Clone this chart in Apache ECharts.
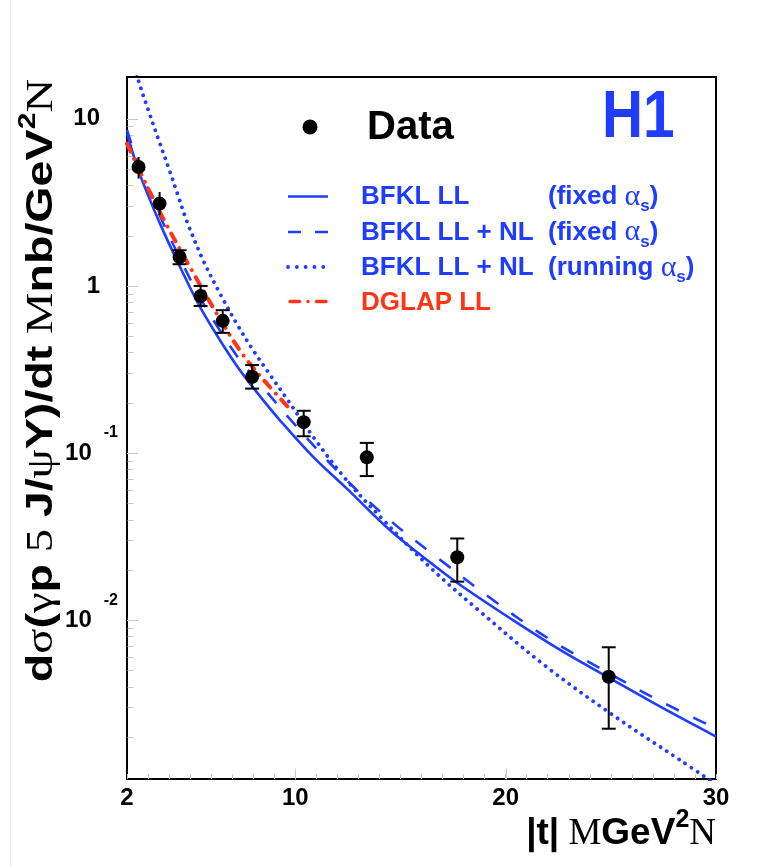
<!DOCTYPE html>
<html><head><meta charset="utf-8">
<script src="https://cdn.jsdelivr.net/npm/echarts@6/dist/echarts.min.js"></script>
<style>html,body{margin:0;padding:0;background:#fff}#c{width:783px;height:866px}</style>
</head><body><div id="c"></div>
<script>
// ---- data ----
const tValues    = [2.55, 3.55, 4.5, 5.5, 6.55, 7.95, 10.4, 13.4, 17.7, 24.9];
const dsigma     = [5.15, 3.11, 1.49, 0.871, 0.618, 0.286, 0.153, 0.0942, 0.0238, 0.00458];
const dsigmaHigh = [5.91, 3.65, 1.635, 1.0, 0.716, 0.336, 0.179, 0.115, 0.0308, 0.00688];
const dsigmaLow  = [4.39, 2.65, 1.349, 0.759, 0.524, 0.243, 0.126, 0.0728, 0.0170, 0.00224];

const bfklLL_t = [2, 2.6, 3.57, 4.52, 5.47, 6.42, 7.37, 8.32, 9.27, 10.85, 12.44, 14.49, 16.08, 17.69, 20.35, 22.73, 24.9, 27.48, 30];
const bfklLL_v = [8.19, 4.7, 2.36, 1.30, 0.749, 0.4735, 0.313, 0.219, 0.157, 0.0948, 0.0614, 0.0346, 0.0239, 0.01675, 0.0100, 0.00647, 0.00453, 0.00297, 0.00201];

const bfklNL_t = [2, 2.6, 3.57, 4.52, 5.47, 6.42, 7.37, 8.32, 9.74, 12.12, 14.49, 16.71, 19.4, 21.94, 24.91, 27.5, 30];
const bfklNL_v = [8.6, 5.1, 2.62, 1.46, 0.85, 0.54, 0.36, 0.26, 0.16, 0.0755, 0.0397, 0.0239, 0.0132, 0.0079, 0.00481, 0.0032, 0.00225];

const bfklRun_t = [2.4, 2.54, 3.0, 3.5, 4.0, 4.4, 4.83, 5.62, 6.42, 7.21, 8.0, 8.79, 9.59, 10.85, 12.44, 14.02, 16.39, 18.77, 21.94, 25.1, 28.27, 30];
const bfklRun_v = [20.5, 17.0, 11.4, 7.5, 5.0, 3.55, 2.47, 1.425, 0.901, 0.596, 0.412, 0.295, 0.212, 0.125, 0.0688, 0.0418, 0.0208, 0.0113, 0.00526, 0.0027, 0.00146, 0.00104];

const dglap_t = [2, 2.7, 3.81, 4.99, 6.26, 7.53, 8.64, 9.8];
const dglap_v = [7.11, 4.59, 2.41, 1.30, 0.684, 0.385, 0.261, 0.18];

// axis ticks / labels
const xLabelValues = [2, 10, 20, 30];
const xMajorTicks = [10, 20];
const yMinorTicks = [0.002,0.003,0.004,0.005,0.006,0.007,0.008,0.009,
                     0.02,0.03,0.04,0.05,0.06,0.07,0.08,0.09,
                     0.2,0.3,0.4,0.5,0.6,0.7,0.8,0.9,
                     2,3,4,5,6,7,8,9];
const X_MIN = 2, X_MAX = 30, Y_MIN = 0.00112, Y_MAX = 17.8;

// ---- chart ----
const BLUE = '#1f3cff', RED = '#ff3515';
const SANS = '"Liberation Sans", Arial, sans-serif';
const SERIF = '"Liberation Serif", "Times New Roman", serif';
const zip = (a, b) => a.map((v, i) => [v, b[i]]);

const chart = echarts.init(document.getElementById('c'), null, {renderer: 'canvas'});

function tickSeries(data, horizontal, len) {
  return {
    type: 'custom', silent: true, z: 1, clip: false,
    data: data,
    encode: {x: 0, y: 1},
    renderItem: (p, api) => {
      const c = api.coord([api.value(0), api.value(1)]);
      const x = Math.round(c[0]) + 0.5, y = Math.round(c[1]) + 0.5;
      return {
        type: 'line',
        shape: horizontal ? {x1: x, y1: y, x2: x + len, y2: y} : {x1: x, y1: y, x2: x, y2: y - len},
        style: {stroke: '#c8c8c8', lineWidth: 1}
      };
    }
  };
}

const legendY = [196.5, 232, 267, 301.5];
const textY = [197, 232.5, 268, 303];
const LFONT = 26;
const richParen = {
  p: {fontFamily: SANS, fontWeight: 'bold', fontSize: LFONT, fill: BLUE, lineHeight: 36},
  a: {fontFamily: SERIF, fontSize: 30, fill: BLUE, lineHeight: 36},
  s: {fontFamily: SANS, fontWeight: 'bold', fontSize: 17, fill: BLUE, lineHeight: 14, verticalAlign: 'bottom'}
};

const option = {
  animation: false,
  backgroundColor: '#fff',
  grid: {left: 127, top: 77, right: 67, bottom: 87, show: true, borderColor: '#000', borderWidth: 2,
         containLabel: false, outerBoundsMode: 'none'},
  xAxis: {
    type: 'value', min: X_MIN, max: X_MAX, interval: 1,
    axisLine: {show: true, lineStyle: {color: '#000', width: 2}},
    axisTick: {show: true, inside: true, length: 5, lineStyle: {color: '#c8c8c8', width: 1}},
    splitLine: {show: false},
    axisLabel: {
      margin: 7, color: '#000', fontFamily: SANS, fontWeight: 'bold', fontSize: 24,
      formatter: v => xLabelValues.indexOf(v) >= 0 ? String(v) : ''
    }
  },
  yAxis: {
    type: 'log', logBase: 10, min: Y_MIN, max: Y_MAX,
    axisLine: {show: true, lineStyle: {color: '#000', width: 2}},
    axisTick: {show: true, inside: true, length: 11, lineStyle: {color: '#c8c8c8', width: 1}},
    splitLine: {show: false},
    axisLabel: {
      margin: 9, showMinLabel: false, showMaxLabel: false,
      formatter: v => {
        const e = Math.round(Math.log10(v));
        if (e >= 0) return '{n|' + Math.round(v) + '}';
        return '{b|10}{s|' + e + '}';
      },
      rich: {
        n: {fontFamily: SANS, fontWeight: 'bold', fontSize: 24, color: '#000', padding: [0, 18, 0, 0]},
        b: {fontFamily: SANS, fontWeight: 'bold', fontSize: 24, color: '#000', lineHeight: 56},
        s: {fontFamily: SANS, fontWeight: 'bold', fontSize: 16, color: '#000', lineHeight: 16,
            verticalAlign: 'top', padding: [0, 0, 0, 12]}
      }
    }
  },
  series: [
    tickSeries(yMinorTicks.map(v => [X_MIN, v]), true, 6),
    tickSeries(xMajorTicks.map(v => [v, Y_MIN]), false, 11),
    {
      name: 'BFKL LL (fixed)', type: 'line', data: zip(bfklLL_t, bfklLL_v), smooth: 0.35,
      showSymbol: false, symbol: 'none', z: 2,
      lineStyle: {color: BLUE, width: 2.6}
    },
    {
      name: 'BFKL LL + NL (fixed)', type: 'line', data: zip(bfklNL_t, bfklNL_v), smooth: 0.35,
      showSymbol: false, symbol: 'none', z: 2,
      lineStyle: {color: BLUE, width: 2.6, type: [14, 16]}
    },
    {
      name: 'BFKL LL + NL (running)', type: 'line', data: zip(bfklRun_t, bfklRun_v), smooth: 0.35,
      showSymbol: false, symbol: 'none', z: 2,
      lineStyle: {color: BLUE, width: 3.8, type: [0.01, 7.4], cap: 'round'}
    },
    {
      name: 'DGLAP LL', type: 'line', data: zip(dglap_t, dglap_v), smooth: 0.35,
      showSymbol: false, symbol: 'none', z: 2,
      lineStyle: {color: RED, width: 4, type: [9, 8, 0.01, 8], cap: 'round'}
    },
    {
      name: 'errors', type: 'custom', z: 3,
      data: tValues.map((t, i) => [t, dsigmaLow[i], dsigmaHigh[i]]),
      encode: {x: 0, y: [1, 2]},
      renderItem: (p, api) => {
        const lo = api.coord([api.value(0), api.value(1)]);
        const hi = api.coord([api.value(0), api.value(2)]);
        const w = 7, st = {stroke: '#000', lineWidth: 2};
        const children = [
          {type: 'line', shape: {x1: lo[0], y1: lo[1], x2: hi[0], y2: hi[1]}, style: st}
        ];
        if (p.dataIndex >= 2) {
          children.push({type: 'line', shape: {x1: lo[0] - w, y1: lo[1], x2: lo[0] + w, y2: lo[1]}, style: st});
          children.push({type: 'line', shape: {x1: hi[0] - w, y1: hi[1], x2: hi[0] + w, y2: hi[1]}, style: st});
        }
        return {type: 'group', children: children};
      }
    },
    {
      name: 'Data', type: 'scatter', data: zip(tValues, dsigma), z: 4,
      symbol: 'circle', symbolSize: 14, itemStyle: {color: '#000', opacity: 1}
    }
  ],
  graphic: [
    {type: 'line', shape: {x1: 10.5, y1: 0, x2: 10.5, y2: 866}, style: {stroke: '#ededed', lineWidth: 1}, silent: true},
    // legend: Data
    {type: 'circle', shape: {cx: 310, cy: 127, r: 7.5}, style: {fill: '#000'}},
    {type: 'text', x: 367, y: 128, style: {text: 'Data', font: 'bold 40px ' + SANS, fill: '#000',
      align: 'left', verticalAlign: 'middle'}},
    // H1
    {type: 'text', x: 602, y: 119, scaleX: 0.86, style: {text: 'H1', font: 'bold 66px ' + SANS, fill: BLUE,
      align: 'left', verticalAlign: 'middle'}},
    // legend line samples
    {type: 'line', shape: {x1: 288, y1: legendY[0], x2: 328, y2: legendY[0]}, style: {stroke: BLUE, lineWidth: 2.6}},
    {type: 'line', shape: {x1: 288, y1: legendY[1], x2: 328, y2: legendY[1]}, style: {stroke: BLUE, lineWidth: 2.6, lineDash: [13, 14]}},
    {type: 'line', shape: {x1: 288, y1: legendY[2], x2: 328, y2: legendY[2]}, style: {stroke: BLUE, lineWidth: 3.8, lineDash: [0.01, 8.8], lineCap: 'round'}},
    {type: 'line', shape: {x1: 290, y1: legendY[3], x2: 327, y2: legendY[3]}, style: {stroke: RED, lineWidth: 3.6, lineDash: [9.5, 8.5, 0.01, 8.5], lineCap: 'round'}},
    // legend texts
    {type: 'text', x: 361, y: textY[0], style: {text: 'BFKL LL', font: 'bold ' + LFONT + 'px ' + SANS, fill: BLUE, verticalAlign: 'middle'}},
    {type: 'text', x: 548, y: textY[0], style: {text: '{p|(fixed }{a|α}{s|s}{p|)}', rich: richParen, fill: BLUE, verticalAlign: 'middle'}},
    {type: 'text', x: 361, y: textY[1], style: {text: 'BFKL LL + NL', font: 'bold ' + LFONT + 'px ' + SANS, fill: BLUE, verticalAlign: 'middle'}},
    {type: 'text', x: 548, y: textY[1], style: {text: '{p|(fixed }{a|α}{s|s}{p|)}', rich: richParen, fill: BLUE, verticalAlign: 'middle'}},
    {type: 'text', x: 361, y: textY[2], style: {text: 'BFKL LL + NL', font: 'bold ' + LFONT + 'px ' + SANS, fill: BLUE, verticalAlign: 'middle'}},
    {type: 'text', x: 548, y: textY[2], style: {text: '{p|(running }{a|α}{s|s}{p|)}', rich: richParen, fill: BLUE, verticalAlign: 'middle'}},
    {type: 'text', x: 361, y: textY[3], style: {text: 'DGLAP LL', font: 'bold ' + LFONT + 'px ' + SANS, fill: RED, verticalAlign: 'middle'}},
    // x axis title
    {type: 'text', x: 716, y: 834, style: {
      text: '{b||t|}{g| M}{b|GeV}{s|2}{g|N}', align: 'right', verticalAlign: 'middle', fill: '#000',
      rich: {
        b: {fontFamily: SANS, fontWeight: 'bold', fontSize: 37, fill: '#000', lineHeight: 52},
        g: {fontFamily: SERIF, fontSize: 37, fill: '#000', lineHeight: 52},
        s: {fontFamily: SANS, fontWeight: 'bold', fontSize: 25, fill: '#000', lineHeight: 25, verticalAlign: 'top'}
      }}},
    // y axis title
    {type: 'text', x: 42, y: 380.5, rotation: Math.PI / 2, scaleX: 1.26, style: {
      text: '{b|d}{g|σ}{b|(}{g|γ}{b|p}{g| 5 }{b|J/}{g|ψ}{b|Y)/dt}{g| M}{b|nb/GeV}{s|2}{g|N}',
      align: 'center', verticalAlign: 'middle', fill: '#000',
      rich: {
        b: {fontFamily: SANS, fontWeight: 'bold', fontSize: 37, fill: '#000', lineHeight: 52},
        g: {fontFamily: SERIF, fontSize: 37, fill: '#000', lineHeight: 52},
        s: {fontFamily: SANS, fontWeight: 'bold', fontSize: 24, fill: '#000', lineHeight: 24, verticalAlign: 'top'}
      }}}
  ]
};
chart.setOption(option);
</script>
</body></html>
